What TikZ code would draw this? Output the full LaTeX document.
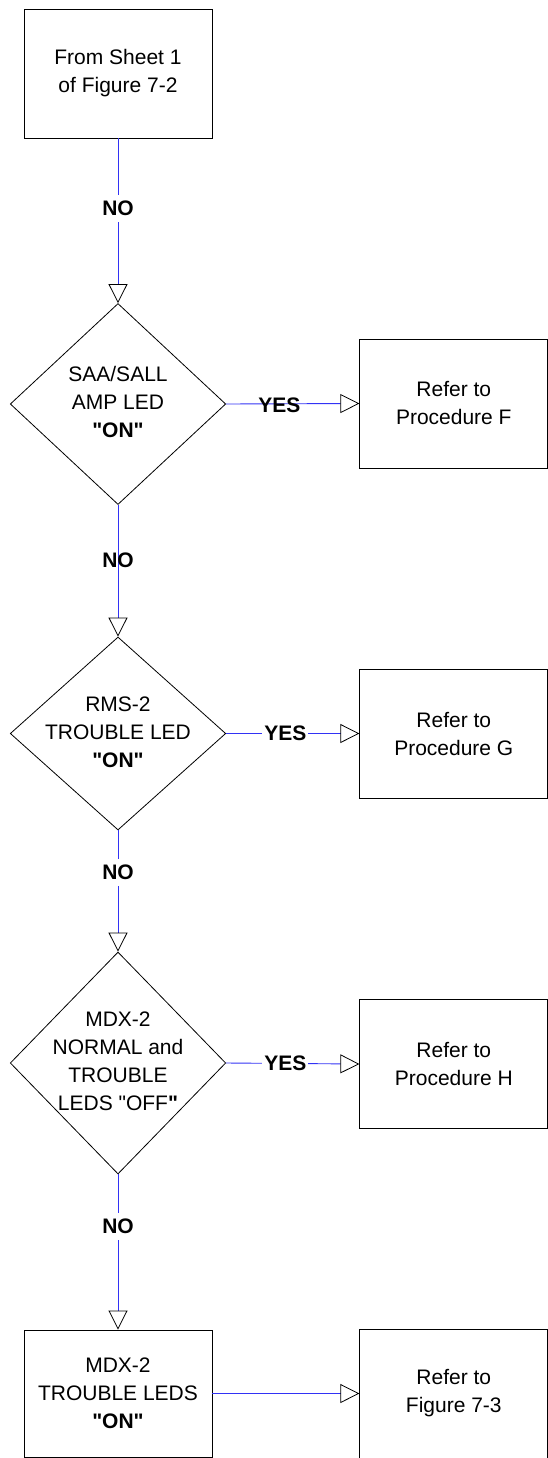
\documentclass[tikz,border=0pt]{standalone}
\usepackage{fontspec}
\setmainfont{Liberation Sans}[Ligatures=TeXOff]
\usetikzlibrary{shapes.geometric,arrows.meta}
\definecolor{connblue}{RGB}{50,50,245}
\begin{document}
\begin{tikzpicture}[x=1pt,y=-1pt,
  txt/.style={font=\fontsize{21}{28}\selectfont},
  box/.style={txt, draw=black, line width=0.9pt, rectangle, minimum width=188pt, minimum height=129pt, inner sep=0pt, align=center},
  dec/.style={draw=black, line width=0.8pt, diamond, minimum width=215.5pt, inner sep=0pt},
  dtext/.style={txt, align=center, inner sep=0pt},
  conn/.style={draw=connblue, line width=0.9pt, -{Triangle[open,length=19pt,width=19pt,color=black,line width=0.8pt]}},
  lbl/.style={font=\bfseries\fontsize{21}{28}\selectfont, inner xsep=2pt, inner ysep=6pt, fill=white},
  lblo/.style={font=\bfseries\fontsize{21}{28}\selectfont, inner sep=0pt}]
\useasboundingbox (0,0) rectangle (548,1458);

\node[box] (top) at (118,73.5) {From Sheet 1\\of Figure 7-2};

\node[dec, minimum height=201pt] (d1) at (118,404) {};
\node[dtext] (d1t) at (118,402) {SAA/SALL\\AMP LED\\\textbf{"ON"}};
\node[box] (F) at (453.8,403.5) {Refer to\\Procedure F};

\node[dec, minimum height=193pt] (d2) at (118,733.5) {};
\node[dtext] (d2t) at (118,732) {RMS-2\\TROUBLE LED\\\textbf{"ON"}};
\node[box] (G) at (453.8,733.5) {Refer to\\Procedure G};

\node[dec, minimum height=222pt] (d3) at (118,1063) {};
\node[dtext] (d3t) at (118,1061) {MDX-2\\NORMAL and\\TROUBLE\\LEDS "OFF\textbf{"}};
\node[box] (H) at (453.8,1064) {Refer to\\Procedure H};

\node[box, minimum height=127pt] (bot) at (118,1393.5) {MDX-2\\TROUBLE LEDS\\\textbf{"ON"}};
\node[box] (R) at (453.8,1393.5) {Refer to\\Figure 7-3};

\draw[conn] (top.south) -- node[lbl,pos=0.424] (no1) {NO} (d1.north);
\draw[conn] (d1.east) -- node[lblo,pos=0.40,yshift=-1pt] (yes1) {YES} (F.west);
\draw[conn] (d1.south) -- node[lblo,pos=0.419] (no2) {NO} (d2.north);
\draw[conn] (d2.east) -- node[lbl,pos=0.444] (yes2) {YES} (G.west);
\draw[conn] (d2.south) -- node[lbl,pos=0.344] (no3) {NO} (d3.north);
\draw[conn] (d3.east) -- node[lbl,pos=0.444] (yes3) {YES} (H.west);
\draw[conn] (d3.south) -- node[lbl,pos=0.333] (no4) {NO} (bot.north);
\draw[conn] (bot.east) -- (R.west);
\end{tikzpicture}
\end{document}
